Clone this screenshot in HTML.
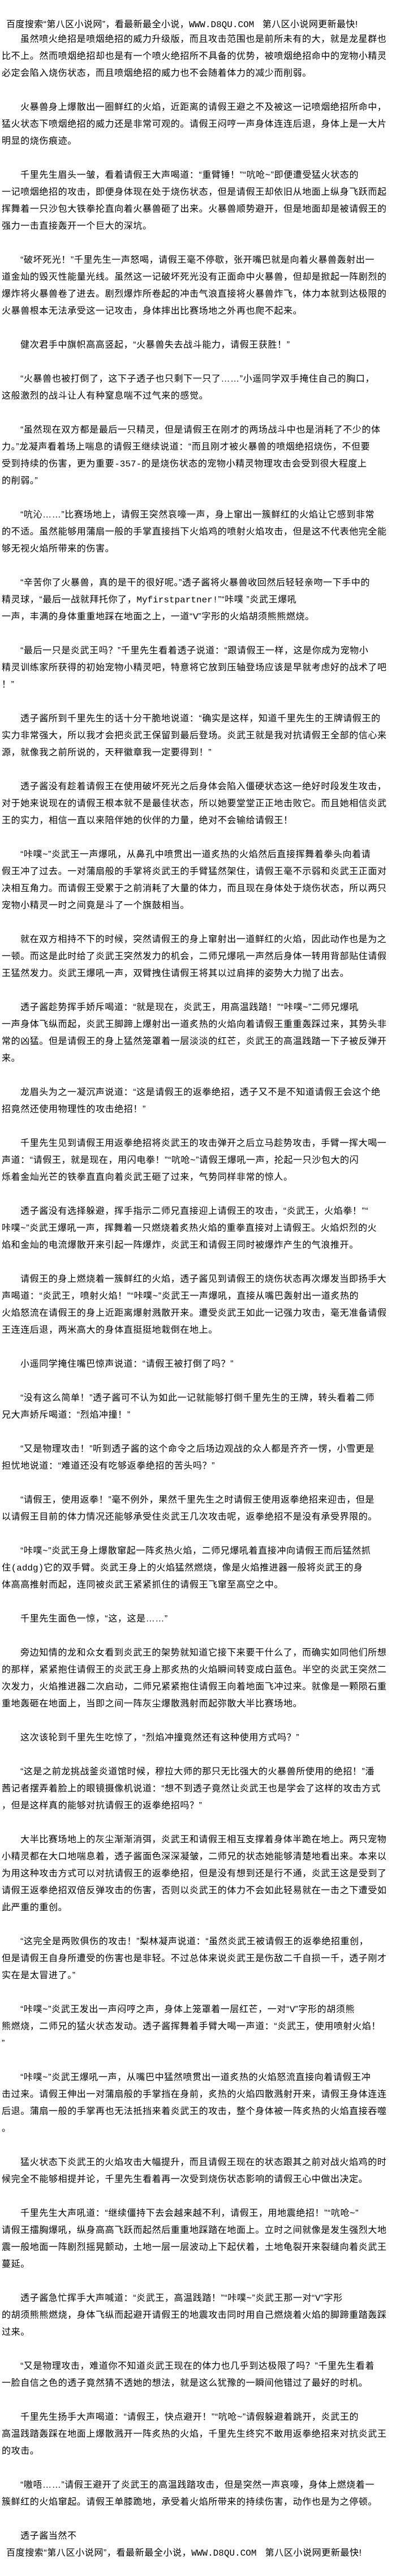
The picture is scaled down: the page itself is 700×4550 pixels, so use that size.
<!DOCTYPE html>
<html><head><meta charset="utf-8">
<style>
html,body{margin:0;padding:0;background:#fff;}
body{width:700px;height:4550px;overflow:hidden;position:relative;color:#000;
font-family:"Liberation Sans","Noto Sans CJK SC",sans-serif;font-size:16px;}
.h{position:absolute;left:11px;top:31px;height:26px;line-height:26px;white-space:nowrap;letter-spacing:0.4px;}
.f{height:30px;line-height:30px;white-space:nowrap;padding-left:8px;letter-spacing:0.4px;}
#c{position:absolute;left:3px;top:55px;width:697px;}
#c div{height:30px;line-height:30px;white-space:nowrap;letter-spacing:0.6px;}
#c div.p{text-indent:33px;}
.m{font-family:"Liberation Mono",monospace;letter-spacing:0;}
</style></head><body>
<div class="h">百度搜索“第八区小说网”，看最新最全小说，<span class="m">WWW.D8QU.COM</span>&nbsp;&nbsp; 第八区小说网更新最快!</div>
<div id="c">
<div class="p">虽然喷火绝招是喷烟绝招的威力升级版，而且攻击范围也是前所未有的大，就是龙星群也</div>
<div>比不上。然而喷烟绝招却也是有一个喷火绝招所不具备的优势，被喷烟绝招命中的宠物小精灵</div>
<div>必定会陷入烧伤状态，而且喷烟绝招的威力也不会随着体力的减少而削弱。</div>
<div></div>
<div class="p">火暴兽身上爆散出一圈鲜红的火焰，近距离的请假王避之不及被这一记喷烟绝招所命中，</div>
<div>猛火状态下喷烟绝招的威力还是非常可观的。请假王闷哼一声身体连连后退，身体上是一大片</div>
<div>明显的烧伤痕迹。</div>
<div></div>
<div class="p">千里先生眉头一皱，看着请假王大声喝道：“重臂锤！”“吭呛~”即便遭受猛火状态的</div>
<div>一记喷烟绝招的攻击，即便身体现在处于烧伤状态，但是请假王却依旧从地面上纵身飞跃而起</div>
<div>挥舞着一只沙包大铁拳抡直向着火暴兽砸了出来。火暴兽顺势避开，但是地面却是被请假王的</div>
<div>强力一击直接轰开一个巨大的深坑。</div>
<div></div>
<div class="p">“破坏死光！”千里先生一声怒喝，请假王毫不停歇，张开嘴巴就是向着火暴兽轰射出一</div>
<div>道金灿的毁灭性能量光线。虽然这一记破坏死光没有正面命中火暴兽，但却是掀起一阵剧烈的</div>
<div>爆炸将火暴兽卷了进去。剧烈爆炸所卷起的冲击气浪直接将火暴兽炸飞，体力本就到达极限的</div>
<div>火暴兽根本无法承受这一记攻击，身体摔出比赛场地之外再也爬不起来。</div>
<div></div>
<div class="p">健次君手中旗帜高高竖起，“火暴兽失去战斗能力，请假王获胜！”</div>
<div></div>
<div class="p">“火暴兽也被打倒了，这下子透子也只剩下一只了……”小遥同学双手掩住自己的胸口，</div>
<div>这般激烈的战斗让人有种窒息喘不过气来的感觉。</div>
<div></div>
<div class="p">“虽然现在双方都是最后一只精灵，但是请假王在刚才的两场战斗中也是消耗了不少的体</div>
<div>力。”龙凝声看着场上喘息的请假王继续说道：“而且刚才被火暴兽的喷烟绝招烧伤，不但要</div>
<div>受到持续的伤害，更为重要<span class="m">-357-</span>的是烧伤状态的宠物小精灵物理攻击会受到很大程度上</div>
<div>的削弱。”</div>
<div></div>
<div class="p">“吭沁……”比赛场地上，请假王突然哀嚎一声，身上窜出一簇鲜红的火焰让它感到非常</div>
<div>的不适。虽然能够用蒲扇一般的手掌直接挡下火焰鸡的喷射火焰攻击，但是这不代表他完全能</div>
<div>够无视火焰所带来的伤害。</div>
<div></div>
<div class="p">“辛苦你了火暴兽，真的是干的很好呢。”透子酱将火暴兽收回然后轻轻亲吻一下手中的</div>
<div>精灵球，“最后一战就拜托你了，<span class="m">Myfirstpartner!</span>”“咔噗 ”炎武王爆吼</div>
<div>一声，丰满的身体重重地踩在地面之上，一道“<span class="m">V</span>”字形的火焰胡须熊熊燃烧。</div>
<div></div>
<div class="p">“最后一只是炎武王吗？”千里先生看着透子说道：“跟请假王一样，这是你成为宠物小</div>
<div>精灵训练家所获得的初始宠物小精灵吧，特意将它放到压轴登场应该是早就考虑好的战术了吧</div>
<div>！”</div>
<div></div>
<div class="p">透子酱所到千里先生的话十分干脆地说道：“确实是这样，知道千里先生的王牌请假王的</div>
<div>实力非常强大，所以我才会把炎武王保留到最后登场。炎武王就是我对抗请假王全部的信心来</div>
<div>源，就像我之前所说的，天秤徽章我一定要得到！”</div>
<div></div>
<div class="p">透子酱没有趁着请假王在使用破坏死光之后身体会陷入僵硬状态这一绝好时段发生攻击，</div>
<div>对于她来说现在的请假王根本就不是最佳状态，所以她要堂堂正正地击败它。而且她相信炎武</div>
<div>王的实力，相信一直以来陪伴她的伙伴的力量，绝对不会输给请假王！</div>
<div></div>
<div class="p">“咔噗~”炎武王一声爆吼，从鼻孔中喷贯出一道炙热的火焰然后直接挥舞着拳头向着请</div>
<div>假王冲了过去。一对蒲扇般的手掌将炎武王的手臂猛然架住，请假王毫不示弱和炎武王正面对</div>
<div>决相互角力。而请假王受累于之前消耗了大量的体力，而且现在身体处于烧伤状态，所以两只</div>
<div>宠物小精灵一时之间竟是斗了一个旗鼓相当。</div>
<div></div>
<div class="p">就在双方相持不下的时候，突然请假王的身上窜射出一道鲜红的火焰，因此动作也是为之</div>
<div>一顿。而这是此时给了炎武王突然发力的机会，二师兄爆吼一声然后身体一转用背部贴住请假</div>
<div>王猛然发力。炎武王爆吼一声，双臂拽住请假王将其以过肩摔的姿势大力抛了出去。</div>
<div></div>
<div class="p">透子酱趁势挥手娇斥喝道：“就是现在，炎武王，用高温践踏！”“咔噗~”二师兄爆吼</div>
<div>一声身体飞纵而起，炎武王脚蹄上爆射出一道炙热的火焰向着请假王重重轰踩过来，其势头非</div>
<div>常的凶猛。但是请假王的身上猛然笼罩着一层淡淡的红芒，炎武王的高温践踏一下子被反弹开</div>
<div>来。</div>
<div></div>
<div class="p">龙眉头为之一凝沉声说道：“这是请假王的返拳绝招，透子又不是不知道请假王会这个绝</div>
<div>招竟然还使用物理性的攻击绝招！”</div>
<div></div>
<div class="p">千里先生见到请假王用返拳绝招将炎武王的攻击弹开之后立马趁势攻击，手臂一挥大喝一</div>
<div>声道：“请假王，就是现在，用闪电拳！”“吭呛~”请假王爆吼一声，抡起一只沙包大的闪</div>
<div>烁着金灿光芒的铁拳直直向着炎武王砸了过来，气势同样非常的惊人。</div>
<div></div>
<div class="p">透子酱没有选择躲避，挥手指示二师兄直接迎上请假王的攻击，“炎武王，火焰拳！”“</div>
<div>咔噗~”炎武王爆吼一声，挥舞着一只燃烧着炙热火焰的重拳直接对上请假王。火焰炽烈的火</div>
<div>焰和金灿的电流爆散开来引起一阵爆炸，炎武王和请假王同时被爆炸产生的气浪推开。</div>
<div></div>
<div class="p">请假王的身上燃烧着一簇鲜红的火焰，透子酱见到请假王的烧伤状态再次爆发当即扬手大</div>
<div>声喝道：“炎武王，喷射火焰！”“咔噗~”炎武王一声爆吼，直接从嘴巴轰射出一道炙热的</div>
<div>火焰怒流在请假王的身上近距离爆射溅散开来。遭受炎武王如此一记强力攻击，毫无准备请假</div>
<div>王连连后退，两米高大的身体直挺挺地栽倒在地上。</div>
<div></div>
<div class="p">小遥同学掩住嘴巴惊声说道：“请假王被打倒了吗？”</div>
<div></div>
<div class="p">“没有这么简单！”透子酱可不认为如此一记就能够打倒千里先生的王牌，转头看着二师</div>
<div>兄大声娇斥喝道：“烈焰冲撞！”</div>
<div></div>
<div class="p">“又是物理攻击！”听到透子酱的这个命令之后场边观战的众人都是齐齐一愣，小雪更是</div>
<div>担忧地说道：“难道还没有吃够返拳绝招的苦头吗？”</div>
<div></div>
<div class="p">“请假王，使用返拳！”毫不例外，果然千里先生之时请假王使用返拳绝招来迎击，但是</div>
<div>以请假王目前的体力情况还能够承受住炎武王几次攻击呢，返拳绝招不是没有承受界限的。</div>
<div></div>
<div class="p">“咔噗~”炎武王身上爆散窜起一阵炙热火焰，二师兄爆吼着直接冲向请假王而后猛然抓</div>
<div>住<span class="m">(addg)</span>它的双手臂。炎武王身上的火焰猛然燃烧，像是火焰推进器一般将炎武王的身</div>
<div>体高高推射而起，连同被炎武王紧紧抓住的请假王飞窜至高空之中。</div>
<div></div>
<div class="p">千里先生面色一惊，“这，这是……”</div>
<div></div>
<div class="p">旁边知情的龙和众女看到炎武王的架势就知道它接下来要干什么了，而确实如同他们所想</div>
<div>的那样，紧紧抱住请假王的炎武王身上那炙热的火焰瞬间转变成白蓝色。半空的炎武王突然二</div>
<div>次发力，火焰推进器二次启动，二师兄紧紧抱住请假王向着地面飞冲过来。就像是一颗陨石重</div>
<div>重地轰砸在地面上，当即之间一阵灰尘爆散溅射而起弥散大半比赛场地。</div>
<div></div>
<div class="p">这次该轮到千里先生吃惊了，“烈焰冲撞竟然还有这种使用方式吗？”</div>
<div></div>
<div class="p">“这是之前龙挑战釜炎道馆时候，穆拉大师的那只无比强大的火暴兽所使用的绝招！”潘</div>
<div>茜记者摆弄着脸上的眼镜摄像机说道：“想不到透子竟然让炎武王也是学会了这样的攻击方式</div>
<div>，但是这样真的能够对抗请假王的返拳绝招吗？”</div>
<div></div>
<div class="p">大半比赛场地上的灰尘渐渐消弭，炎武王和请假王相互支撑着身体半跪在地上。两只宠物</div>
<div>小精灵都在大口地喘息着，透子酱面色深深凝皱，二师兄的状态她能够清楚地看出来。本来以</div>
<div>为用这种攻击方式可以对抗请假王的返拳绝招，但是没有想到还是行不通，炎武王这是受到了</div>
<div>请假王返拳绝招双倍反弹攻击的伤害，否则以炎武王的体力不会如此轻易就在一击之下遭受如</div>
<div>此严重的重创。</div>
<div></div>
<div class="p">“这完全是两败俱伤的攻击！”梨林凝声说道：“虽然炎武王被请假王的返拳绝招重创，</div>
<div>但是请假王自身所遭受的伤害也是非轻。不过总体来说炎武王是伤敌二千自损一千，透子刚才</div>
<div>实在是太冒进了。”</div>
<div></div>
<div class="p">“咔噗~”炎武王发出一声闷哼之声，身体上笼罩着一层红芒，一对“<span class="m">V</span>”字形的胡须熊</div>
<div>熊燃烧，二师兄的猛火状态发动。透子酱挥舞着手臂大喝一声道：“炎武王，使用喷射火焰！</div>
<div>”</div>
<div></div>
<div class="p">“咔噗~”炎武王爆吼一声，从嘴巴中猛然喷贯出一道炙热的火焰怒流直接向着请假王冲</div>
<div>击过来。请假王伸出一对蒲扇般的手掌挡在身前，炙热的火焰四散溅射开来，请假王身体连连</div>
<div>后退。蒲扇一般的手掌再也无法抵挡来着炎武王的攻击，整个身体被一阵炙热的火焰直接吞噬</div>
<div>。</div>
<div></div>
<div class="p">猛火状态下炎武王的火焰攻击大幅提升，而且请假王现在的状态跟其之前对战火焰鸡的时</div>
<div>候完全不能够相提并论，千里先生看着再一次受到烧伤状态影响的请假王心中做出决定。</div>
<div></div>
<div class="p">千里先生大声吼道：“继续僵持下去会越来越不利，请假王，用地震绝招！”“吭呛~”</div>
<div>请假王擂胸爆吼，纵身高高飞跃而起然后重重地踩踏在地面上。立时之间就像是发生强烈大地</div>
<div>震一般地面一阵剧烈摇晃颤动，土地一层一层波动上下起伏着，土地龟裂开来裂缝向着炎武王</div>
<div>蔓延。</div>
<div></div>
<div class="p">透子酱急忙挥手大声喊道：“炎武王，高温践踏！”“咔噗~”炎武王那一对“<span class="m">V</span>”字形</div>
<div>的胡须熊熊燃烧，身体飞纵而起避开请假王的地震攻击同时用自己燃烧着火焰的脚蹄重踏轰踩</div>
<div>过来。</div>
<div></div>
<div class="p">“又是物理攻击，难道你不知道炎武王现在的体力也几乎到达极限了吗？”千里先生看着</div>
<div>一脸自信之色的透子竟然猜不透她的想法，就是这么犹豫的一瞬间他错过了最好的时机。</div>
<div></div>
<div class="p">千里先生扬手大声喝道：“请假王，快点避开！”“吭呛~”请假躲避着跳开，炎武王的</div>
<div>高温践踏轰踩在地面上爆散溅开一阵炙热的火焰，千里先生终究不敢用返拳绝招来对抗炎武王</div>
<div>的攻击。</div>
<div></div>
<div class="p">“嗷唔……”请假王避开了炎武王的高温践踏攻击，但是突然一声哀嚎，身体上燃烧着一</div>
<div>簇鲜红的火焰窜起。请假王单膝跪地，承受着火焰所带来的持续伤害，动作也是为之停顿。</div>
<div></div>
<div class="p">透子酱当然不</div>
<div class="f" style="text-indent:0">百度搜索“第八区小说网”，看最新最全小说，<span class="m">WWW.D8QU.COM</span>&nbsp;&nbsp; 第八区小说网更新最快!</div>
</div>
</body></html>
